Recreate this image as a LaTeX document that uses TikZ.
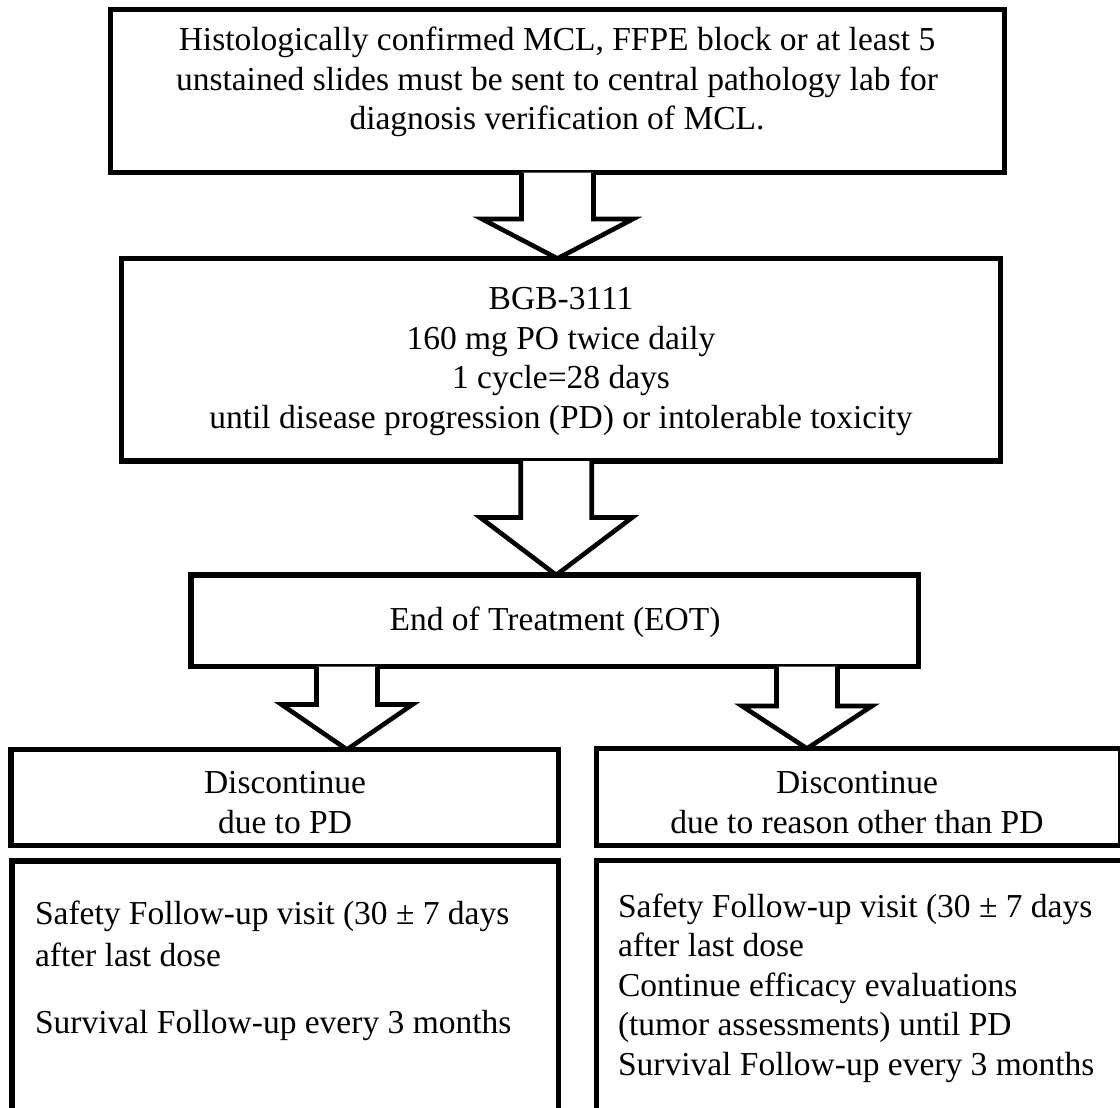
\documentclass[tikz,border=0pt]{standalone}
\usepackage{fontspec}
\setmainfont{Liberation Serif}
\usetikzlibrary{calc}
\tikzset{
  box/.style={draw=black, line width=5.2pt, fill=white, inner sep=0pt, outer sep=0pt, rectangle, line join=miter},
  txt/.style={inner sep=0pt, outer sep=0pt, font=\fontsize{33.5}{39.5}\selectfont, align=center, text=black},
  txtl/.style={txt, align=left, anchor=west},
  barrow/.style={draw=black, line width=4.6pt, fill=white, line join=miter, miter limit=10},
}
% #1 start node anchor, #2 tip coordinate, #3 half shaft, #4 half head, #5 head length
\newcommand\blockarr[5]{%
  \draw[barrow] ($(#2 |- #1)+(-#3,0)$) -- ($(#2)+(-#3,-#5)$) -- ($(#2)+(-#4,-#5)$) -- (#2)
    -- ($(#2)+(#4,-#5)$) -- ($(#2)+(#3,-#5)$) -- ($(#2 |- #1)+(#3,0)$);}
\begin{document}
\begin{tikzpicture}[x=1pt, y=-1pt]
\useasboundingbox (0,0) rectangle (1120,1108);
\clip (0,0) rectangle (1120,1108);
\fill[white] (0,0) rectangle (1120,1108);

% boxes
\node[box, minimum width=893.4pt, minimum height=163.3pt] (b1) at (557.5,90.85) {};
\node[box, minimum width=879pt, minimum height=202.5pt] (b2) at (561.3,359.75) {};
\node[box, minimum width=727.5pt, minimum height=91.5pt] (b3) at (554.75,620.75) {};
\node[box, minimum width=547.5pt, minimum height=96pt] (b4l) at (284.75,797.5) {};
\node[box, minimum width=524.5pt, minimum height=97pt] (b4r) at (858.75,797) {};
\node[box, minimum width=546.5pt, minimum height=264pt] (b5l) at (285.25,993) {};
\node[box, minimum width=533.5pt, minimum height=264.5pt] (b5r) at (863.25,992.75) {};

% texts
\node[txt] (t1) at (557,82) {Histologically confirmed MCL, FFPE block or at least 5\\unstained slides must be sent to central pathology lab for\\diagnosis verification of MCL.};
\node[txt] (t2) at (561,361.5) {BGB-3111\\160 mg PO twice daily\\1 cycle=28 days\\until disease progression (PD) or intolerable toxicity};
\node[txt] (t3) at (555,622) {End of Treatment (EOT)};
\node[txt] (t4l) at (285,802.5) {Discontinue\\due to PD};
\node[txt] (t4r) at (857,802.5) {Discontinue\\due to reason other than PD};
\node[txtl] (t5l) at (35,970.5) {Safety Follow-up visit (30 ± 7 days\\[2.5pt]after last dose\\[27.5pt]Survival Follow-up every 3 months};
\node[txtl] (t5r) at (618,988) {Safety Follow-up visit (30 ± 7 days\\after last dose\\Continue efficacy evaluations\\(tumor assessments) until PD\\Survival Follow-up every 3 months};

% arrow tips
\coordinate (tip1) at (b1.south |- b2.north);
\coordinate (tip2) at ($(b3.north)+(1.5,0)$);
\coordinate (tip3) at ($(b4l.north west)+(336,0)$);
\coordinate (tip4) at ($(b4r.north west)+(210.5,0)$);

\blockarr{b1.south}{tip1}{36}{75.5}{39.5}
\blockarr{b2.south}{tip2}{35.5}{76}{57.5}
\blockarr{b3.south}{tip3}{30.5}{65.5}{45}
\blockarr{b3.south}{tip4}{30.5}{65}{42.5}
\end{tikzpicture}
\end{document}
